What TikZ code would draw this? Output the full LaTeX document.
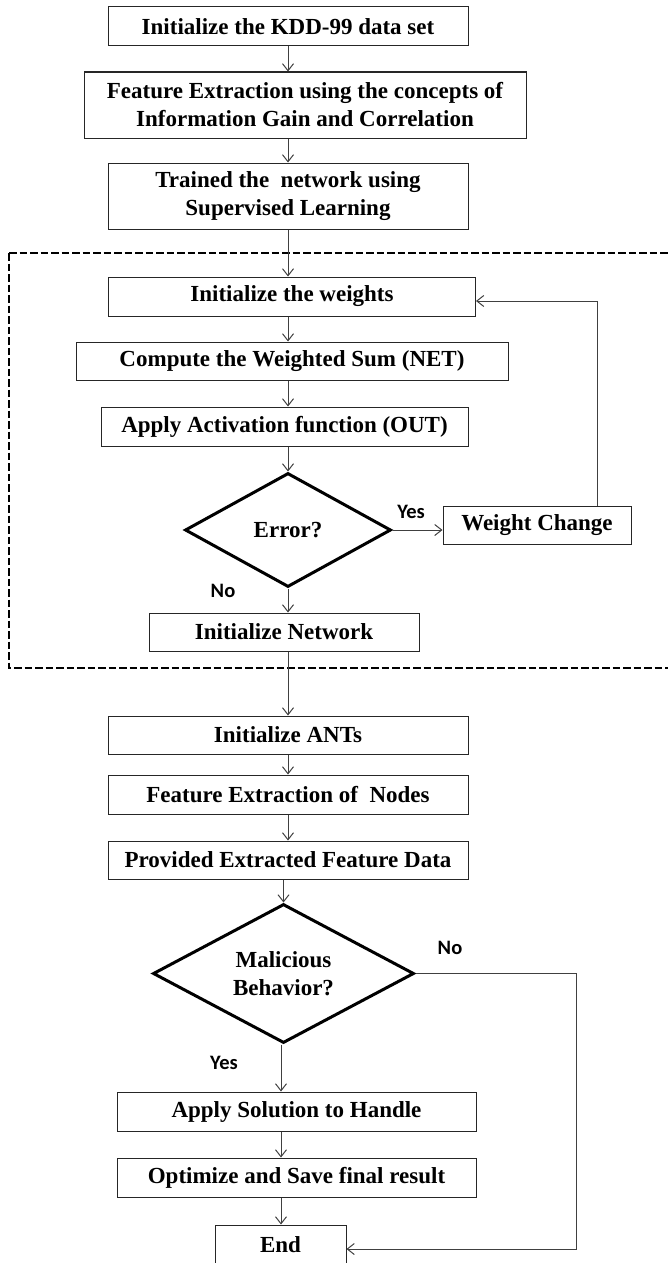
\documentclass[tikz,border=0pt]{standalone}
\usepackage{fontspec}
\setmainfont{Liberation Serif}
\newfontfamily\lblfont{Carlito}
\usetikzlibrary{shapes.geometric,arrows.meta}

\begin{document}
\begin{tikzpicture}[x=1pt,y=-1pt,
  stepbox/.style={draw=black!85,line width=1pt,fill=white,inner sep=0pt,
    align=center,font=\fontsize{23}{28}\selectfont\bfseries},
  decision/.style={diamond,draw=black,line width=3pt,fill=white,inner sep=0pt,
    align=center,font=\fontsize{23}{28}\selectfont\bfseries},
  arr/.style={draw=black!75,line width=1pt,-{Straight Barb[length=7pt,width=11pt,line width=1pt]}},
  lbl/.style={font=\lblfont\fontsize{20.5}{22}\selectfont\bfseries,inner sep=0pt},
  dashbox/.style={draw=black,line width=2.8pt,dash pattern=on 7.5pt off 3pt}
]
\useasboundingbox (0,0) rectangle (668,1263);

% main column and lower column
\coordinate (axis) at (288,0);
\coordinate (low) at (281,0);

% neural network training part
\draw[dashbox] (9,253) -- (690,253) (9,253) -- (9,668) -- (690,668);

\node[stepbox,minimum width=360pt,minimum height=39pt] (kdd) at (288,26.5) {Initialize the KDD-99 data set};
\node[stepbox,minimum width=442pt,minimum height=66pt] (fe) at (305,105) {Feature Extraction using the concepts of\\Information Gain and Correlation};
\node[stepbox,minimum width=360pt,minimum height=66pt] (tr) at (288,196) {Trained the~ network using\\Supervised Learning};

\node[stepbox,minimum width=367pt,minimum height=39pt] (wts) at (292,296.5) {Initialize the weights};
\node[stepbox,minimum width=432pt,minimum height=38pt] (net) at (292,361) {Compute the Weighted Sum (NET)};
\node[stepbox,minimum width=367pt,minimum height=39pt] (act) at (284.5,426.5) {Apply Activation function (OUT)};
\node[decision,minimum width=206pt,minimum height=114pt,shape aspect=1.8] (err) at (288,530) {Error?};
\node[stepbox,minimum width=188pt,minimum height=38pt] (wc) at (537,525) {Weight Change};
\node[stepbox,minimum width=270pt,minimum height=38pt] (inet) at (284,632) {Initialize Network};

% ant colony part
\node[stepbox,minimum width=360pt,minimum height=38pt] (ants) at (288,735) {Initialize ANTs};
\node[stepbox,minimum width=360pt,minimum height=39pt] (fen) at (288,794.5) {Feature Extraction of~ Nodes};
\node[stepbox,minimum width=360pt,minimum height=38pt] (prov) at (288,860) {Provided Extracted Feature Data};
\node[decision,minimum width=261pt,minimum height=139pt,shape aspect=1.9] (mal) at (283.5,973.5) {Malicious\\Behavior?};
\node[stepbox,minimum width=359pt,minimum height=39pt] (apply) at (296.5,1111.5) {Apply Solution to Handle};
\node[stepbox,minimum width=359pt,minimum height=39pt] (opt) at (296.5,1177.5) {Optimize and Save final result};
\node[stepbox,minimum width=131pt,minimum height=39pt] (end) at (280.5,1244.5) {End};

% branch labels
\node[lbl] (erryes) at (411,512) {Yes};
\node[lbl] (errno) at (223,591) {No};
\node[lbl] (malno) at (450,948) {No};
\node[lbl] (malyes) at (224,1063) {Yes};

% connectors
\draw[arr] (kdd.south -| axis) -- (fe.north -| axis);
\draw[arr] (fe.south -| axis) -- (tr.north -| axis);
\draw[arr] (tr.south -| axis) -- (wts.north -| axis);
\draw[arr] (wts.south -| axis) -- (net.north -| axis);
\draw[arr] (net.south -| axis) -- (act.north -| axis);
\draw[arr] (act.south -| axis) -- (err.north);
\draw[arr] (err.south) -- (err.south |- inet.north);
\draw[arr] (err.east) -- (err.east -| wc.west);
\coordinate (fb) at (597,301);
\draw[arr] (wc.north -| fb) -- (fb) -- (fb -| wts.east);
\draw[arr] (inet.south -| axis) -- (ants.north -| axis);
\draw[arr] (ants.south -| axis) -- (fen.north -| axis);
\draw[arr] (fen.south -| axis) -- (prov.north -| axis);
\draw[arr] (prov.south -| mal.north) -- (mal.north);
\draw[arr] (mal.south -| low) -- (apply.north -| low);
\draw[arr] (apply.south -| low) -- (opt.north -| low);
\draw[arr] (opt.south -| low) -- (end.north -| low);
\coordinate (nob) at (576,1249);
\draw[arr] (mal.east) -- (mal.east -| nob) -- (nob) -- (nob -| end.east);
\end{tikzpicture}
\end{document}
